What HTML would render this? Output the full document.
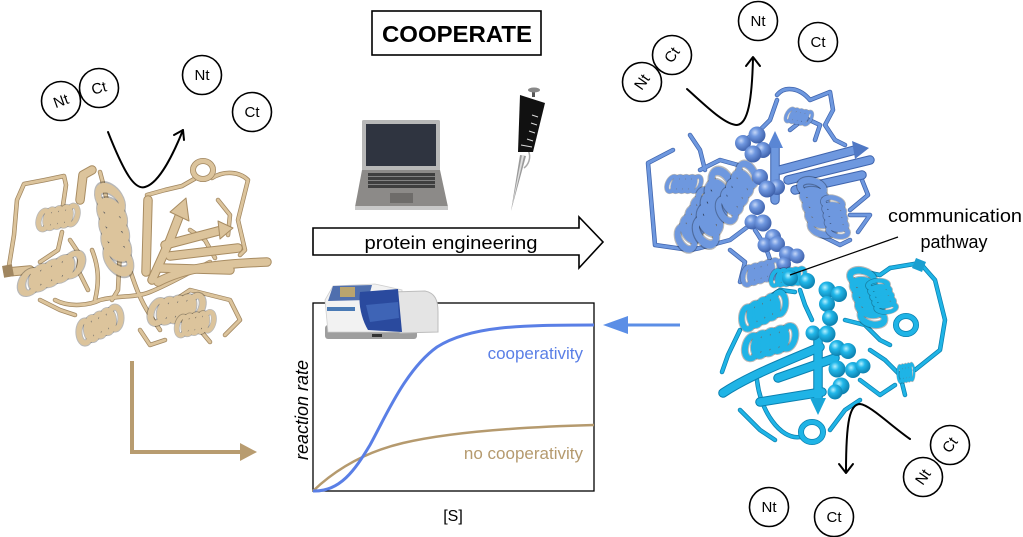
<!DOCTYPE html>
<html><head><meta charset="utf-8">
<style>
html,body{margin:0;padding:0;background:#fff;}
svg{display:block;}
text{font-family:"Liberation Sans",sans-serif;}
</style></head>
<body>
<svg width="1023" height="537" viewBox="0 0 1023 537" xmlns="http://www.w3.org/2000/svg">
<defs>
  <g id="hx" fill="none" stroke-linecap="round">
    <g stroke="#000" stroke-opacity="0.28" stroke-width="6.5">
      <ellipse cx="0" cy="0" rx="5.5" ry="10" transform="translate(0,0) rotate(25)"/>
      <ellipse cx="0" cy="0" rx="5.5" ry="10" transform="translate(7.5,0) rotate(25)"/>
      <ellipse cx="0" cy="0" rx="5.5" ry="10" transform="translate(15,0) rotate(25)"/>
      <ellipse cx="0" cy="0" rx="5.5" ry="10" transform="translate(22.5,0) rotate(25)"/>
      <ellipse cx="0" cy="0" rx="5.5" ry="10" transform="translate(30,0) rotate(25)"/>
    </g>
    <g stroke="currentColor" stroke-width="4.8">
      <ellipse cx="0" cy="0" rx="5.5" ry="10" transform="translate(0,0) rotate(25)"/>
      <ellipse cx="0" cy="0" rx="5.5" ry="10" transform="translate(7.5,0) rotate(25)"/>
      <ellipse cx="0" cy="0" rx="5.5" ry="10" transform="translate(15,0) rotate(25)"/>
      <ellipse cx="0" cy="0" rx="5.5" ry="10" transform="translate(22.5,0) rotate(25)"/>
      <ellipse cx="0" cy="0" rx="5.5" ry="10" transform="translate(30,0) rotate(25)"/>
    </g>
  </g>
  <radialGradient id="sb" cx="0.38" cy="0.35" r="0.7">
    <stop offset="0" stop-color="#c6d7f7"/>
    <stop offset="0.35" stop-color="#7098e0"/>
    <stop offset="1" stop-color="#3a5ca6"/>
  </radialGradient>
  <radialGradient id="sc" cx="0.38" cy="0.35" r="0.7">
    <stop offset="0" stop-color="#b5f0ff"/>
    <stop offset="0.35" stop-color="#22b8ea"/>
    <stop offset="1" stop-color="#0a7aa8"/>
  </radialGradient>
</defs>

<!-- ============ LEFT PROTEIN (tan) ============ -->
<g style="color:#dcc49c" fill="none" stroke-linecap="round" stroke-linejoin="round">
  <g stroke="#a08660" stroke-width="4.5">
    <path d="M8,272 L14,235 L17,200 L24,184 L45,180 L64,176 L66,185 L62,212"/>
    <path d="M62,232 L58,250 L40,262"/>
    <path d="M100,172 C105,190 110,215 113,238"/>
    <path d="M55,300 C70,308 90,305 100,300 C120,295 135,298 150,292 C170,284 190,272 210,262"/>
    <path d="M147,195 L165,190 L182,186 L196,178"/>
    <path d="M212,178 C225,170 240,172 248,180 L243,200 L238,220 L245,250 L240,255"/>
    <path d="M200,330 L210,342"/>
    <path d="M130,270 C135,285 140,300 150,315 L160,330"/>
    <path d="M120,250 L118,290 L112,300"/>
    <path d="M190,230 L205,240 L215,258"/>
    <path d="M70,240 L80,255 L78,270 L88,290"/>
    <path d="M40,300 L60,310 L75,315"/>
    <path d="M218,200 L230,215 L228,235"/>
    <path d="M140,330 L150,345 L165,340"/>
    <path d="M95,300 C100,280 98,265 92,250"/>
    <path d="M175,300 L190,290 L230,300 L240,320 L225,335"/>
  </g>
  <g stroke="#dcc49c" stroke-width="3">
    <path d="M8,272 L14,235 L17,200 L24,184 L45,180 L64,176 L66,185 L62,212"/>
    <path d="M62,232 L58,250 L40,262"/>
    <path d="M100,172 C105,190 110,215 113,238"/>
    <path d="M55,300 C70,308 90,305 100,300 C120,295 135,298 150,292 C170,284 190,272 210,262"/>
    <path d="M147,195 L165,190 L182,186 L196,178"/>
    <path d="M212,178 C225,170 240,172 248,180 L243,200 L238,220 L245,250 L240,255"/>
    <path d="M200,330 L210,342"/>
    <path d="M130,270 C135,285 140,300 150,315 L160,330"/>
    <path d="M120,250 L118,290 L112,300"/>
    <path d="M190,230 L205,240 L215,258"/>
    <path d="M70,240 L80,255 L78,270 L88,290"/>
    <path d="M40,300 L60,310 L75,315"/>
    <path d="M218,200 L230,215 L228,235"/>
    <path d="M140,330 L150,345 L165,340"/>
    <path d="M95,300 C100,280 98,265 92,250"/>
    <path d="M175,300 L190,290 L230,300 L240,320 L225,335"/>
  </g>
  <!-- strands -->
  <g stroke="#a88c62" stroke-width="9.5">
    <path d="M8,272 L30,270"/>
    <path d="M80,200 L83,175 L92,170"/>
    <path d="M146,272 L148,200"/>
    <path d="M152,280 L170,240 L180,214"/>
    <path d="M158,282 C185,268 215,264 267,262"/>
    <path d="M165,245 L222,230"/>
    <path d="M170,256 L238,248"/>
    <path d="M160,268 L230,270"/>
  </g>
  <g stroke="#dcc49c" stroke-width="7.5">
    <path d="M8,272 L30,270"/>
    <path d="M80,200 L83,175 L92,170"/>
    <path d="M146,272 L148,200"/>
    <path d="M152,280 L170,240 L180,214"/>
    <path d="M158,282 C185,268 215,264 267,262"/>
    <path d="M165,245 L222,230"/>
    <path d="M170,256 L238,248"/>
    <path d="M160,268 L230,270"/>
  </g>
  <polygon points="170,212 186,198 189,221" fill="#dcc49c" stroke="#a88c62" stroke-width="1"/>
  <polygon points="218,221 233,228 220,239" fill="#dcc49c" stroke="#a88c62" stroke-width="1"/>
  <rect x="3" y="265" width="10" height="12" fill="#a08660" transform="rotate(-10 8 271)"/>
  <!-- helices -->
  <use href="#hx" transform="translate(44,220) rotate(-10) scale(0.95)"/>
  <use href="#hx" transform="translate(30,282) rotate(-22) scale(1.55,1.05)"/>
  <use href="#hx" transform="translate(110,200) rotate(82) scale(2.0,1.2)"/>
  <use href="#hx" transform="translate(85,332) rotate(-25) scale(1.1,1.1)"/>
  <use href="#hx" transform="translate(158,312) rotate(-8) scale(1.25,1.15)"/>
  <use href="#hx" transform="translate(182,326) rotate(-10) scale(0.9,0.95)"/>
  <ellipse cx="203" cy="170" rx="10" ry="9" stroke="#a08660" stroke-width="6"/>
  <ellipse cx="203" cy="170" rx="10" ry="9" stroke="#dcc49c" stroke-width="4.5"/>
</g>

<!-- ============ RIGHT PROTEIN TOP (blue) ============ -->
<g style="color:#6e98df" fill="none" stroke-linecap="round" stroke-linejoin="round">
  <g stroke="#3f64ad" stroke-width="4.5">
    <path d="M673,150 L648,163 L652,210 L655,245 L690,250 L700,248 L730,240 L750,225"/>
    <path d="M777,95 C785,85 800,88 810,100 L830,92 L833,110 L825,125 L835,140 L845,145"/>
    <path d="M690,135 L700,150 L705,170"/>
    <path d="M777,100 L770,120 L760,130 L745,140"/>
    <path d="M860,175 L868,195 L850,210"/>
    <path d="M755,230 C765,245 770,255 772,270"/>
    <path d="M820,235 L840,245 L850,240"/>
    <path d="M700,170 L720,160 L738,165"/>
    <path d="M790,130 L805,118 L820,125 L815,140"/>
    <path d="M730,250 L745,262 L740,282"/>
    <path d="M850,215 L870,215 L858,232"/>
  </g>
  <g stroke="#6e98df" stroke-width="3">
    <path d="M673,150 L648,163 L652,210 L655,245 L690,250 L700,248 L730,240 L750,225"/>
    <path d="M777,95 C785,85 800,88 810,100 L830,92 L833,110 L825,125 L835,140 L845,145"/>
    <path d="M690,135 L700,150 L705,170"/>
    <path d="M777,100 L770,120 L760,130 L745,140"/>
    <path d="M860,175 L868,195 L850,210"/>
    <path d="M755,230 C765,245 770,255 772,270"/>
    <path d="M820,235 L840,245 L850,240"/>
    <path d="M700,170 L720,160 L738,165"/>
    <path d="M790,130 L805,118 L820,125 L815,140"/>
    <path d="M730,250 L745,262 L740,282"/>
    <path d="M850,215 L870,215 L858,232"/>
  </g>
  <g stroke="#3f64ad" stroke-width="9.5">
    <path d="M780,170 L855,150"/>
    <path d="M788,180 L870,160"/>
    <path d="M795,190 L862,175"/>
    <path d="M775,200 L775,145"/>
  </g>
  <g stroke="#6e98df" stroke-width="7.5">
    <path d="M780,170 L855,150"/>
    <path d="M788,180 L870,160"/>
    <path d="M795,190 L862,175"/>
    <path d="M775,200 L775,145"/>
  </g>
  <polygon points="767,148 775,131 783,148" fill="#5a86d4"/>
  <polygon points="852,141 869,148 855,159" fill="#4f78c4"/>
  <use href="#hx" transform="translate(672,184) scale(0.8)"/>
  <use href="#hx" transform="translate(686,238) rotate(-60) scale(1.4,1.15)"/>
  <use href="#hx" transform="translate(706,232) rotate(-72) scale(1.7,1.25)"/>
  <use href="#hx" transform="translate(727,210) rotate(-60) scale(1.35,1.15)"/>
  <use href="#hx" transform="translate(812,188) rotate(75) scale(1.35,1.2)"/>
  <use href="#hx" transform="translate(833,203) rotate(80) scale(0.95,1)"/>
  <use href="#hx" transform="translate(748,276) rotate(-15) scale(0.9,0.9)"/>
  <use href="#hx" transform="translate(790,115) rotate(10) scale(0.6,0.7)"/>
</g>
<!-- blue spheres -->
<g fill="url(#sb)">
  <circle cx="743" cy="143" r="8"/>
  <circle cx="763" cy="150" r="8"/>
  <circle cx="757" cy="135" r="8.5"/>
  <circle cx="753" cy="154" r="8.5"/>
  <circle cx="760" cy="177" r="8"/>
  <circle cx="777" cy="187" r="8"/>
  <circle cx="767" cy="189" r="8.5"/>
  <circle cx="757" cy="207" r="8"/>
  <circle cx="752" cy="222" r="7.5"/>
  <circle cx="763" cy="223" r="8.5"/>
  <circle cx="773" cy="237" r="8"/>
  <circle cx="765" cy="245" r="7.5"/>
  <circle cx="777" cy="244" r="8"/>
  <circle cx="787" cy="254" r="8"/>
  <circle cx="797" cy="256" r="7.5"/>
  <circle cx="784" cy="264" r="7"/>
</g>

<!-- ============ RIGHT PROTEIN BOTTOM (cyan) ============ -->
<g style="color:#1fb4e6" fill="none" stroke-linecap="round" stroke-linejoin="round">
  <g stroke="#0a80b0" stroke-width="4.5">
    <path d="M890,268 L920,263 L935,280 L945,320 L940,350 L915,370"/>
    <path d="M757,380 C760,410 780,440 800,437"/>
    <path d="M830,430 L845,410 L860,400"/>
    <path d="M740,330 L728,355 L722,372"/>
    <path d="M870,350 L885,360 L900,375 L905,395"/>
    <path d="M800,290 L805,305 L812,320"/>
    <path d="M855,270 L880,275 L890,268"/>
    <path d="M765,300 L780,290 L795,292"/>
    <path d="M845,320 L865,325 L880,340 L890,345"/>
    <path d="M740,410 L760,430 L775,440"/>
    <path d="M860,380 L880,395 L895,385"/>
  </g>
  <g stroke="#1fb4e6" stroke-width="3">
    <path d="M890,268 L920,263 L935,280 L945,320 L940,350 L915,370"/>
    <path d="M757,380 C760,410 780,440 800,437"/>
    <path d="M830,430 L845,410 L860,400"/>
    <path d="M740,330 L728,355 L722,372"/>
    <path d="M870,350 L885,360 L900,375 L905,395"/>
    <path d="M800,290 L805,305 L812,320"/>
    <path d="M855,270 L880,275 L890,268"/>
    <path d="M765,300 L780,290 L795,292"/>
    <path d="M845,320 L865,325 L880,340 L890,345"/>
    <path d="M740,410 L760,430 L775,440"/>
    <path d="M860,380 L880,395 L895,385"/>
  </g>
  <g stroke="#0a80b0" stroke-width="9.5">
    <path d="M723,393 C750,375 790,360 820,347"/>
    <path d="M760,402 L822,392"/>
    <path d="M778,378 L835,358"/>
    <path d="M818,338 L818,400"/>
  </g>
  <g stroke="#1fb4e6" stroke-width="7.5">
    <path d="M723,393 C750,375 790,360 820,347"/>
    <path d="M760,402 L822,392"/>
    <path d="M778,378 L835,358"/>
    <path d="M818,338 L818,400"/>
  </g>
  <polygon points="810,398 818,415 826,398" fill="#18a6d8"/>
  <polygon points="916,258 926,262 922,272 912,268" fill="#1b9fd0"/>
  <use href="#hx" transform="translate(748,318) rotate(-25) scale(1.15,1.1)"/>
  <use href="#hx" transform="translate(752,347) rotate(-15) scale(1.25,1.15)"/>
  <use href="#hx" transform="translate(862,278) rotate(75) scale(1.35,1.2)"/>
  <use href="#hx" transform="translate(878,285) rotate(70) scale(0.8,1)"/>
  <use href="#hx" transform="translate(900,374) rotate(-10) scale(0.4,0.8)"/>
  <ellipse cx="906" cy="325" rx="10" ry="9" stroke="#0a80b0" stroke-width="6"/>
  <ellipse cx="906" cy="325" rx="10" ry="9" stroke="#1fb4e6" stroke-width="4.5"/>
  <ellipse cx="812" cy="432" rx="11" ry="10" stroke="#0a80b0" stroke-width="6"/>
  <ellipse cx="812" cy="432" rx="11" ry="10" stroke="#1fb4e6" stroke-width="4.5"/>
  <use href="#hx" transform="translate(776,278) rotate(-5) scale(0.8,0.8)"/>
</g>
<!-- cyan spheres -->
<g fill="url(#sc)">
  <circle cx="790" cy="278" r="8"/>
  <circle cx="807" cy="281" r="8"/>
  <circle cx="827" cy="290" r="8.5"/>
  <circle cx="839" cy="294" r="8"/>
  <circle cx="827" cy="304" r="8"/>
  <circle cx="830" cy="318" r="8"/>
  <circle cx="813" cy="333" r="7.5"/>
  <circle cx="827" cy="334" r="8.5"/>
  <circle cx="837" cy="348" r="8"/>
  <circle cx="848" cy="351" r="8"/>
  <circle cx="837" cy="369" r="8.5"/>
  <circle cx="853" cy="370" r="8"/>
  <circle cx="863" cy="366" r="7.5"/>
  <circle cx="841" cy="386" r="8.5"/>
  <circle cx="835" cy="392" r="7.5"/>
</g>

<!-- ============ Nt / Ct circles ============ -->
<g fill="#fff" stroke="#000" stroke-width="1.6">
  <circle cx="61" cy="101" r="19.5"/>
  <circle cx="99" cy="88" r="19.5"/>
  <circle cx="202" cy="75" r="19.5"/>
  <circle cx="252" cy="112" r="19.5"/>
  <circle cx="642" cy="82" r="19.5"/>
  <circle cx="672" cy="55" r="19.5"/>
  <circle cx="758" cy="21" r="19.5"/>
  <circle cx="818" cy="42" r="19.5"/>
  <circle cx="769" cy="507" r="19.5"/>
  <circle cx="834" cy="517" r="19.5"/>
  <circle cx="923" cy="477" r="19.5"/>
  <circle cx="950" cy="445" r="19.5"/>
</g>
<g font-size="15" fill="#000" text-anchor="middle">
  <text x="0" y="5" transform="translate(61,101) rotate(-20)">Nt</text>
  <text x="0" y="5" transform="translate(99,88) rotate(-15)">Ct</text>
  <text x="202" y="80">Nt</text>
  <text x="252" y="117">Ct</text>
  <text x="0" y="5" transform="translate(642,82) rotate(-55)">Nt</text>
  <text x="0" y="5" transform="translate(672,55) rotate(-55)">Ct</text>
  <text x="758" y="26">Nt</text>
  <text x="818" y="47">Ct</text>
  <text x="769" y="512">Nt</text>
  <text x="834" y="522">Ct</text>
  <text x="0" y="5" transform="translate(923,477) rotate(-55)">Nt</text>
  <text x="0" y="5" transform="translate(950,445) rotate(-55)">Ct</text>
</g>

<!-- black curved arrows -->
<g fill="none" stroke="#000" stroke-width="2" stroke-linecap="round" stroke-linejoin="round">
  <path d="M108,132 C125,175 135,190 145,187 C160,183 175,150 183,130"/>
  <path d="M174,135 L183,130 L184,140"/>
  <path d="M687,89 C705,105 725,125 737,125 C748,124 752,100 753,58"/>
  <path d="M746,66 L753,57 L760,66"/>
  <path d="M910,439 C890,425 870,405 860,404 C850,404 846,420 846,472"/>
  <path d="M839,464 L846,473 L853,464"/>
</g>

<!-- communication pathway -->
<line x1="898" y1="237" x2="790" y2="275" stroke="#000" stroke-width="1.2"/>
<text x="955" y="222" font-size="18" text-anchor="middle" textLength="134" lengthAdjust="spacingAndGlyphs">communication</text>
<text x="954" y="248" font-size="18" text-anchor="middle">pathway</text>

<!-- COOPERATE -->
<rect x="372" y="11" width="169" height="44" fill="#fff" stroke="#000" stroke-width="1.6"/>
<text x="457" y="42" font-size="23" font-weight="bold" text-anchor="middle" textLength="150" lengthAdjust="spacingAndGlyphs">COOPERATE</text>

<!-- laptop -->
<g>
  <rect x="362" y="120" width="78" height="51" rx="1.5" fill="#b8b8b8"/>
  <rect x="366" y="124" width="70" height="42" fill="#2f3440"/>
  <polygon points="362,170 440,170 448,207 355,207" fill="#8c8a88"/>
  <polygon points="355,206 448,206 448,210 355,210" fill="#c8c8c8"/>
  <rect x="368" y="173" width="67" height="15" fill="#3f3f3f"/>
  <g stroke="#9a9a9a" stroke-width="0.8">
    <line x1="368" y1="176.5" x2="435" y2="176.5"/>
    <line x1="368" y1="180.5" x2="435" y2="180.5"/>
    <line x1="368" y1="184.5" x2="435" y2="184.5"/>
  </g>
  <rect x="390" y="193" width="23" height="10" fill="#6e6c6a"/>
</g>

<!-- pipette -->
<g>
  <polygon points="520,155 526,156 511,211" fill="#9a9a9a"/>
  <polygon points="522,155 524,156 511,211" fill="#e0e0e0"/>
  <path d="M528,150 C532,158 528,165 524,168" fill="none" stroke="#aaa" stroke-width="1.5"/>
  <polygon points="520,95 545,103 533,152 518,152" fill="#111"/>
  <rect x="532" y="91" width="3" height="6" fill="#555"/>
  <ellipse cx="534" cy="90" rx="6" ry="2.5" fill="#888"/>
  <g stroke="#ddd" stroke-width="1">
    <line x1="532" y1="115" x2="538" y2="117"/>
    <line x1="531" y1="123" x2="537" y2="125"/>
    <line x1="529" y1="131" x2="535" y2="133"/>
    <line x1="527" y1="139" x2="533" y2="141"/>
    <line x1="521" y1="145" x2="532" y2="147"/>
  </g>
</g>

<!-- protein engineering arrow -->
<path d="M313,228 L579,228 L579,217 L603,242 L579,268 L579,255 L313,255 Z" fill="#fff" stroke="#000" stroke-width="1.6"/>
<text x="451" y="249" font-size="18" text-anchor="middle" textLength="173" lengthAdjust="spacingAndGlyphs">protein engineering</text>

<!-- graph -->
<rect x="313" y="303" width="281" height="188" fill="none" stroke="#000" stroke-width="1.3"/>
<path d="M313,491 C335,470 365,452 403,443 C450,432 520,427 594,425" fill="none" stroke="#b59a6e" stroke-width="2.5"/>
<path d="M313,491 C340,492 355,470 370,445 C385,418 405,370 437,347 C470,326 520,325 594,325" fill="none" stroke="#5a7fe6" stroke-width="3"/>
<text x="583" y="359" font-size="17" fill="#5a7fe6" text-anchor="end">cooperativity</text>
<text x="583" y="459" font-size="17" fill="#b59a6e" text-anchor="end">no cooperativity</text>
<text x="0" y="0" font-size="18" font-style="italic" text-anchor="middle" transform="translate(308,410) rotate(-90)">reaction rate</text>
<text x="453" y="521" font-size="16" text-anchor="middle">[S]</text>

<!-- spectrophotometer -->
<g>
  <rect x="325" y="325" width="92" height="14" rx="3" fill="#9e9e9e"/>
  <path d="M325,300 L333,286 L375,284 L402,290 L402,332 L328,332 Z" fill="#f2f2f2" stroke="#cfcfcf" stroke-width="0.8"/>
  <path d="M333,286 L372,285 L368,300 L328,301 Z" fill="#4f6fae"/>
  <rect x="340" y="287" width="15" height="10" fill="#b9a46e"/>
  <rect x="327" y="307" width="28" height="4" fill="#4a7ab5"/>
  <path d="M392,292 L425,291 C435,293 438,300 438,312 L438,332 L400,333 Z" fill="#e4e4e4" stroke="#bdbdbd" stroke-width="1"/>
  <path d="M360,292 L398,289 L402,332 L368,330 C362,320 358,305 360,292 Z" fill="#2a4a9e"/>
  <path d="M366,305 L398,302 L399,318 L370,322 Z" fill="#3e64b6"/>
  <rect x="372" y="334" width="10" height="3" fill="#333"/>
</g>

<!-- blue arrow -->
<line x1="680" y1="325" x2="622" y2="325" stroke="#5b8ee6" stroke-width="3"/>
<polygon points="603,325 628,316 628,334" fill="#5b8ee6"/>

<!-- tan L arrow -->
<path d="M132,361 L132,452 L243,452" fill="none" stroke="#b89c70" stroke-width="4"/>
<polygon points="257,452 240,443 240,461" fill="#b89c70"/>
</svg>
</body></html>
